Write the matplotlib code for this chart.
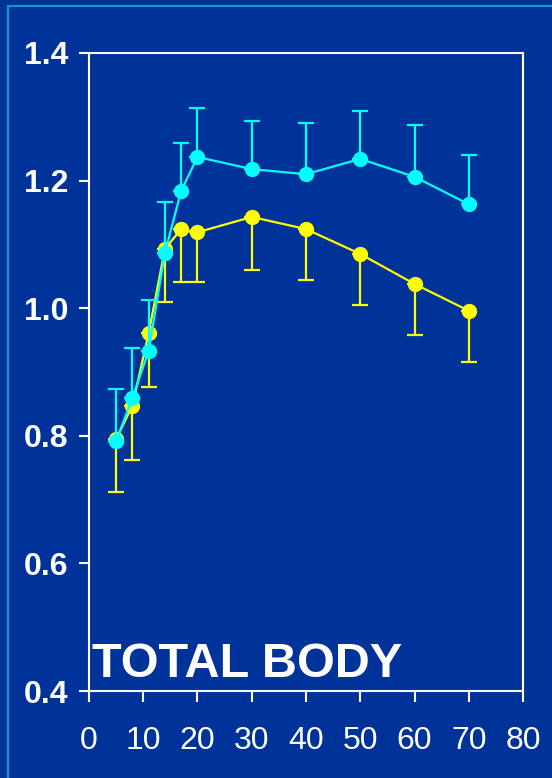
import matplotlib
matplotlib.use('Agg')
import matplotlib.pyplot as plt
from matplotlib.lines import Line2D

# age groups (years)
age = [5, 8, 11, 14, 17, 20, 30, 40, 50, 60, 70]

# upper series (cyan) with upward SD bars
cyan_mean = [0.792, 0.859, 0.933, 1.087, 1.184, 1.237, 1.218, 1.210, 1.234, 1.206, 1.163]
cyan_sd = [0.081, 0.079, 0.080, 0.079, 0.075, 0.077, 0.075, 0.080, 0.075, 0.081, 0.077]

# lower series (yellow) with downward SD bars
yellow_mean = [0.795, 0.847, 0.961, 1.093, 1.124, 1.119, 1.143, 1.124, 1.085, 1.038, 0.996]
yellow_sd = [0.083, 0.085, 0.085, 0.083, 0.083, 0.078, 0.083, 0.080, 0.080, 0.080, 0.080]

x_ticks = [0, 10, 20, 30, 40, 50, 60, 70, 80]
y_ticks = [0.4, 0.6, 0.8, 1.0, 1.2, 1.4]

bg = '#003399'
plt.rcParams['font.family'] = ['Liberation Sans', 'DejaVu Sans']

fig = plt.figure(figsize=(5.52, 7.78), dpi=100, facecolor=bg)
ax = fig.add_axes([0.1612, 0.1118, 0.9475 - 0.1612, 0.9319 - 0.1118])
ax.set_facecolor(bg)

zeros = [0] * len(age)
ax.errorbar(age, yellow_mean, yerr=[yellow_sd, zeros], color='#ffff00', lw=1.6,
            marker='o', ms=10, capsize=6, capthick=1.6, elinewidth=1.6, zorder=3)
ax.errorbar(age, cyan_mean, yerr=[zeros, cyan_sd], color='#00ffff', lw=1.6,
            marker='o', ms=10, capsize=6, capthick=1.6, elinewidth=1.6, zorder=4)

ax.set_xlim(0, 80)
ax.set_ylim(0.4, 1.4)
ax.set_xticks(x_ticks)
ax.set_yticks(y_ticks)
ax.set_yticklabels(['%.1f' % v for v in y_ticks], fontweight='bold')

for s in ax.spines.values():
    s.set_color('white')
    s.set_linewidth(1.5)
ax.tick_params(axis='y', colors='white', labelsize=23, length=7, width=1.5, pad=8)
ax.tick_params(axis='x', colors='white', labelsize=23, length=8, width=1.5, pad=17)

ax.text(0.55, 0.422, 'TOTAL BODY', color='white', fontsize=35, fontweight='bold',
        va='baseline', ha='left', zorder=5)

# slide frame lines
fig.add_artist(Line2D([8 / 552, 1], [1 - 6 / 778, 1 - 6 / 778], color='#1199cc', lw=1.5))
fig.add_artist(Line2D([8 / 552, 8 / 552], [0, 1 - 6 / 778], color='#1199cc', lw=1.5))

fig.savefig('out.png', dpi=100, facecolor=bg)
